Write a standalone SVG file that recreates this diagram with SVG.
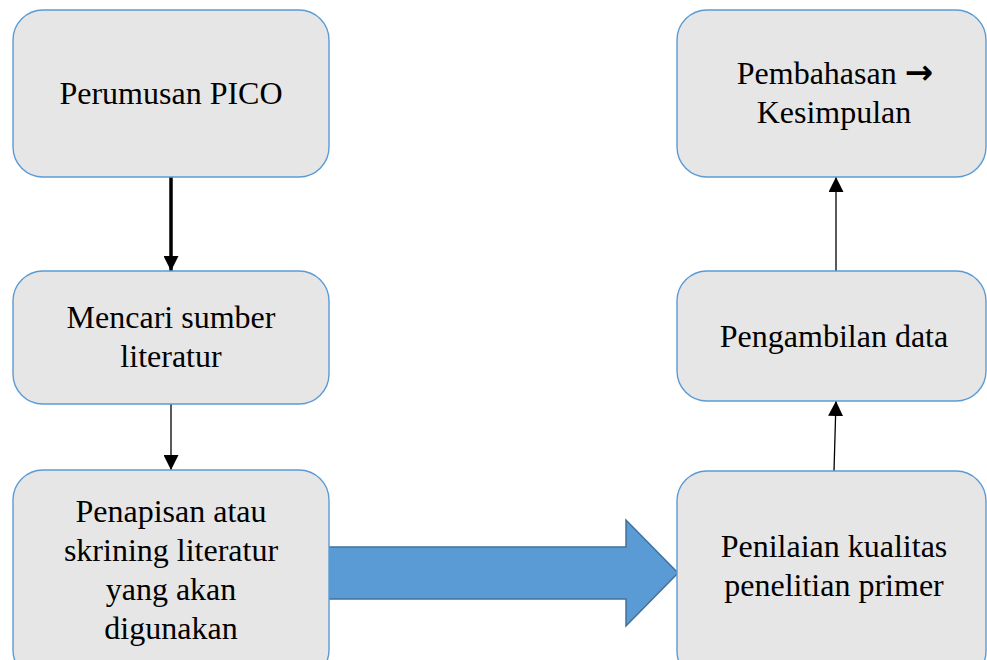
<svg xmlns="http://www.w3.org/2000/svg" width="987" height="660" viewBox="0 0 987 660">
<style>
.box{fill:#E7E6E6;stroke:#5B9BD5;stroke-width:1.4}
.t{font-family:'Liberation Serif','DejaVu Serif',serif;font-size:32px;fill:#000;text-anchor:middle}
.c{stroke:#000;fill:none}
</style>
<defs>
<marker id="ah" viewBox="0 0 10 10" refX="10" refY="5" markerWidth="15" markerHeight="15" markerUnits="userSpaceOnUse" orient="auto">
<path d="M0,0 L10,5 L0,10 z" fill="#000"/>
</marker>
</defs>
<rect width="987" height="660" fill="#fff"/>
<g id="connectors">
<line class="c" x1="171" y1="177" x2="171" y2="271" stroke-width="3.5" marker-end="url(#ah)"/>
<line class="c" x1="171" y1="404" x2="171" y2="470" stroke-width="1.3" marker-end="url(#ah)"/>
<line class="c" x1="834" y1="471" x2="836" y2="401" stroke-width="1.3" marker-end="url(#ah)"/>
<line class="c" x1="836" y1="271" x2="836" y2="177" stroke-width="1.3" marker-end="url(#ah)"/>
<path id="bigarrow" d="M328,547 L626,547 L626,520 L678,573 L626,626 L626,599 L328,599 Z" fill="#5B9BD5" stroke="#41719C" stroke-width="1.5"/>
</g>
<g id="n1">
<rect class="box" x="13" y="10" width="316" height="167" rx="30"/>
<text class="t" x="171" y="104">Perumusan PICO</text>
</g>
<g id="n2">
<rect class="box" x="13" y="271" width="316" height="133" rx="30"/>
<text class="t" x="171" y="328">Mencari sumber</text>
<text class="t" x="171" y="367">literatur</text>
</g>
<g id="n3">
<rect class="box" x="13" y="470" width="316" height="210" rx="30"/>
<text class="t" x="171" y="522">Penapisan atau</text>
<text class="t" x="171" y="561">skrining literatur</text>
<text class="t" x="171" y="600">yang akan</text>
<text class="t" x="171" y="639">digunakan</text>
</g>
<g id="n4">
<rect class="box" x="677" y="10" width="309" height="167" rx="30"/>
<text class="t" x="835" y="84">Pembahasan <tspan font-family="DejaVu Sans, sans-serif" font-size="34" font-weight="bold">→</tspan></text>
<text class="t" x="834" y="123">Kesimpulan</text>
</g>
<g id="n5">
<rect class="box" x="677" y="271" width="309" height="130" rx="30"/>
<text class="t" x="834" y="347">Pengambilan data</text>
</g>
<g id="n6">
<rect class="box" x="677" y="471" width="309" height="210" rx="30"/>
<text class="t" x="834" y="557">Penilaian kualitas</text>
<text class="t" x="834" y="596">penelitian primer</text>
</g>
</svg>
